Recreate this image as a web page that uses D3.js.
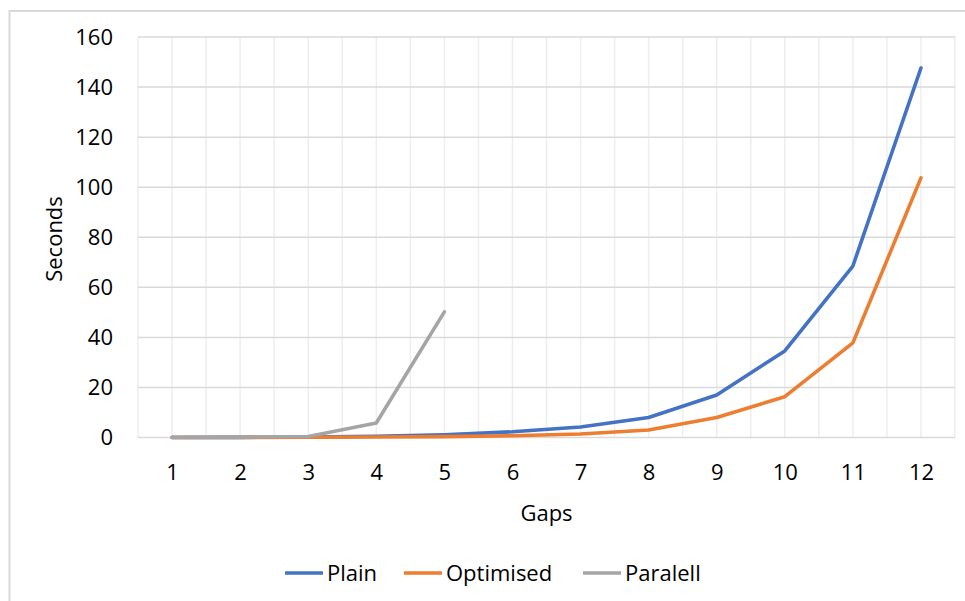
<!DOCTYPE html>
<html>
<head>
<meta charset="utf-8">
<script src="https://cdn.jsdelivr.net/npm/d3@7"></script>
<style>
html,body{margin:0;padding:0;background:#fff;}
svg{display:block;}
text{font-family:"Open Sans",sans-serif;fill:#000;}
</style>
</head>
<body>
<svg id="chart" width="965" height="601"></svg>
<script>
const categories = ["1","2","3","4","5","6","7","8","9","10","11","12"];
const plain      = [0.02, 0.05, 0.15, 0.5, 1.1, 2.3, 4.2, 8.0, 17.0, 34.6, 68.5, 147.6];
const optimised  = [0.01, 0.03, 0.1, 0.2, 0.35, 0.7, 1.4, 3.0, 8.0, 16.3, 37.8, 103.7];
const paralell   = [0.1, 0.15, 0.4, 5.8, 50.2];
const yTicks     = [0, 20, 40, 60, 80, 100, 120, 140, 160];
const seriesNames  = ["Plain", "Optimised", "Paralell"];
const seriesColors = ["#4472C4", "#ED7D31", "#A5A5A5"];

(function () {
const svg = d3.select("#chart");
const pL = 138, pR = 955, pT = 37, pB = 437.5;
const fs = "22px";

// chart border
svg.append("rect").attr("x", 9.5).attr("y", 11).attr("width", 970).attr("height", 600)
  .attr("fill", "none").attr("stroke", "#d9d9d9").attr("stroke-width", 2);

const x = d3.scalePoint().domain(categories).range([pL, pR]).padding(0.5);
const y = d3.scaleLinear().domain([0, 160]).range([pB, pT]);
const step = x.step();

// vertical gridlines (centers and boundaries)
const vx = [];
categories.forEach(c => { vx.push(x(c) - step / 2); vx.push(x(c)); });
vx.push(x(categories[categories.length - 1]) + step / 2);
svg.append("g").selectAll("line").data(vx).join("line")
  .attr("x1", d => d).attr("x2", d => d).attr("y1", pT).attr("y2", pB)
  .attr("stroke", "#eeeeee").attr("stroke-width", 1.5);

// horizontal gridlines
svg.append("g").selectAll("line").data(yTicks).join("line")
  .attr("x1", pL).attr("x2", pR).attr("y1", d => y(d)).attr("y2", d => y(d))
  .attr("stroke", "#d9d9d9").attr("stroke-width", 1.5);

// y axis labels
const yAxis = d3.axisLeft(y).tickValues(yTicks).tickSize(0).tickPadding(25);
const gy = svg.append("g").attr("transform", `translate(${pL},0)`).call(yAxis);
gy.select(".domain").remove();
gy.selectAll("text").style("font-family", '"Open Sans",sans-serif').style("font-size", fs).attr("fill", "#000");

// x axis labels
const xAxis = d3.axisBottom(x).tickSize(0).tickPadding(27);
const gx = svg.append("g").attr("transform", `translate(0,${pB})`).call(xAxis);
gx.select(".domain").remove();
gx.selectAll("text").style("font-family", '"Open Sans",sans-serif').style("font-size", fs).attr("fill", "#000");

// axis titles
svg.append("text").attr("x", (pL + pR) / 2).attr("y", 521).attr("text-anchor", "middle")
  .style("font-size", fs).text("Gaps");
svg.append("text").attr("transform", "translate(62,239) rotate(-90)").attr("text-anchor", "middle")
  .style("font-size", fs).text("Seconds");

// lines
const line = d3.line().x((d, i) => x(categories[i])).y(d => y(d));
[plain, optimised, paralell].forEach((s, k) => {
  svg.append("path").datum(s).attr("d", line)
    .attr("fill", "none").attr("stroke", seriesColors[k]).attr("stroke-width", 3.6)
    .attr("stroke-linejoin", "round").attr("stroke-linecap", "round");
});

// legend
const legendX = [285, 404, 583];
const lg = svg.append("g");
seriesNames.forEach((n, k) => {
  lg.append("line").attr("x1", legendX[k]).attr("x2", legendX[k] + 38)
    .attr("y1", 573).attr("y2", 573).attr("stroke", seriesColors[k]).attr("stroke-width", 3.6);
  lg.append("text").attr("x", legendX[k] + 42).attr("y", 581).style("font-size", fs).text(n);
});
})();
</script>
</body>
</html>
